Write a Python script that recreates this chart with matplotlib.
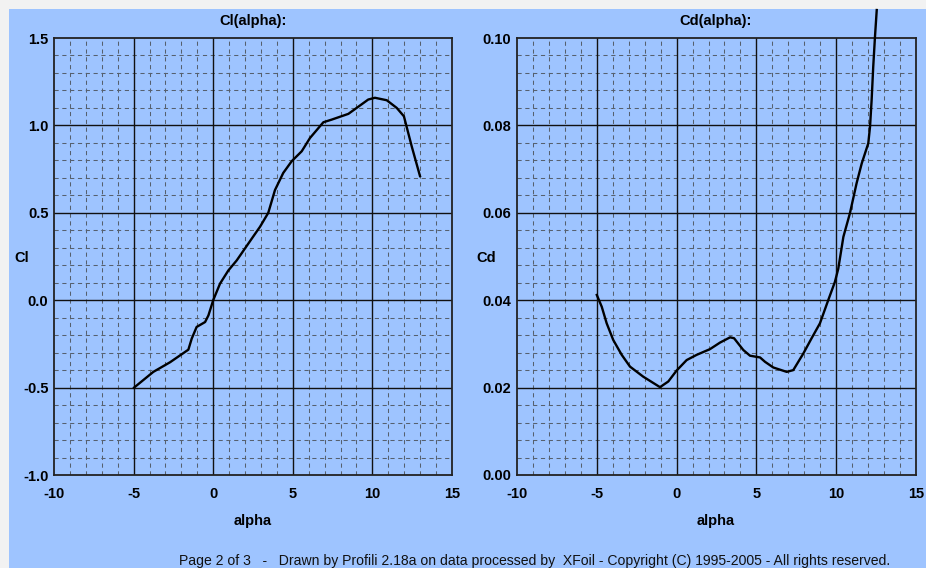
import matplotlib
matplotlib.use("Agg")
import matplotlib.pyplot as plt
from matplotlib.patches import Rectangle
import numpy as np

# ---- data ----
cl_alpha = [-4.97, -3.76, -2.71, -1.56, -1.35, -1.04, -0.51, -0.30, 0.00, 0.43, 0.95, 1.48,
            2.42, 2.94, 3.46, 3.88, 4.40, 4.93, 5.56, 6.08, 6.92, 7.44, 8.49, 9.01,
            9.74, 10.16, 10.90, 11.53, 11.98, 12.47, 12.99]
cl_values = [-0.500, -0.410, -0.355, -0.283, -0.220, -0.153, -0.125, -0.087, 0.000, 0.095, 0.170, 0.228,
             0.352, 0.420, 0.500, 0.630, 0.728, 0.795, 0.852, 0.928, 1.018, 1.033, 1.066, 1.100,
             1.148, 1.158, 1.144, 1.100, 1.052, 0.880, 0.710]

cd_alpha = [-5.00, -4.69, -4.38, -3.97, -3.44, -2.92, -2.09, -1.04, -0.52, 0.00, 0.63, 1.26,
            2.09, 2.72, 3.35, 3.60, 4.18, 4.60, 5.23, 5.54, 6.06, 6.90, 7.31, 7.94, 8.46,
            8.98, 9.50, 9.92, 10.13, 10.45, 10.86, 11.28, 11.60, 12.01, 12.12, 12.22,
            12.32, 12.43, 12.54]
cd_values = [0.0412, 0.0385, 0.0347, 0.0309, 0.0275, 0.0248, 0.0225, 0.0201, 0.0214, 0.0239, 0.0263, 0.0275,
             0.0288, 0.0303, 0.0315, 0.0313, 0.0286, 0.0273, 0.0269, 0.0259, 0.0246, 0.0236, 0.0240, 0.0278, 0.0313,
             0.0347, 0.0400, 0.0442, 0.0472, 0.0545, 0.0599, 0.0668, 0.0713, 0.0759, 0.0797, 0.0858,
             0.0934, 0.1003, 0.1064]

x_ticks = [-10, -5, 0, 5, 10, 15]
cl_ticks = [-1.0, -0.5, 0.0, 0.5, 1.0, 1.5]
cd_ticks = [0.00, 0.02, 0.04, 0.06, 0.08, 0.10]

titles = ["Cl(alpha):", "Cd(alpha):"]
ylabels = ["Cl", "Cd"]
xlabel = "alpha"
footer = "Page 2 of 3   -   Drawn by Profili 2.18a on data processed by  XFoil - Copyright (C) 1995-2005 - All rights reserved."

# ---- style ----
W, H = 926, 568
BG = "#9ec4ff"
plt.rcParams['font.family'] = ['Liberation Sans', 'DejaVu Sans']
fig = plt.figure(figsize=(W / 100, H / 100), dpi=100, facecolor="#f2f2f2")
panel = Rectangle((9 / W, 0), 1 - 9 / W, 1 - 9 / H, transform=fig.transFigure,
                  facecolor=BG, edgecolor="none", zorder=-10)
fig.patches.append(panel)

FS = 10.5


def px_axes(x0, x1, ytop, ybot):
    return fig.add_axes([x0 / W, 1 - ybot / H, (x1 - x0) / W, (ybot - ytop) / H])


def style(ax, yt, fmt, ystep):
    ax.set_facecolor(BG)
    ax.set_xlim(-10, 15)
    ax.set_ylim(yt[0], yt[-1])
    ax.set_xticks(x_ticks)
    ax.set_yticks(yt)
    ax.set_xticklabels([str(t) for t in x_ticks], fontsize=FS, fontweight='bold')
    ax.set_yticklabels([fmt.format(t) for t in yt], fontsize=FS, fontweight='bold')
    ax.tick_params(length=0, axis='y', pad=4)
    ax.tick_params(length=0, axis='x', pad=9)
    # minor dashed grid
    for xv in np.arange(-10, 15.001, 1.0):
        if abs(xv % 5) > 1e-6:
            ax.axvline(xv, color="#56606e", lw=0.75, ls=(0, (4, 3.5)), zorder=1)
    n = int(round((yt[-1] - yt[0]) / ystep))
    for i in range(n + 1):
        yv = yt[0] + i * ystep
        if i % 5 != 0:
            ax.axhline(yv, color="#56606e", lw=0.75, ls=(0, (4, 3.5)), zorder=1)
    for xv in x_ticks[1:-1]:
        ax.axvline(xv, color="#111111", lw=1.0, zorder=2)
    for yv in yt[1:-1]:
        ax.axhline(yv, color="#111111", lw=1.0, zorder=2)
    for s in ax.spines.values():
        s.set_color("#222222")
        s.set_linewidth(1.3)


ax1 = px_axes(54, 452, 38, 475)
style(ax1, cl_ticks, "{:.1f}", 0.1)
ax1.plot(cl_alpha, cl_values, color="black", lw=1.7, zorder=5, solid_joinstyle='round')

ax2 = px_axes(517, 916, 38, 475)
style(ax2, cd_ticks, "{:.2f}", 0.004)
ax2.plot(cd_alpha, cd_values, color="black", lw=1.7, zorder=5, clip_on=False, solid_joinstyle='round')

for cx, t in [(253, titles[0]), (716, titles[1])]:
    fig.text(cx / W, 1 - 21 / H, t, ha='center', va='center', fontsize=FS, fontweight='bold')
for cx, t in [(22, ylabels[0]), (486, ylabels[1])]:
    fig.text(cx / W, 1 - 258 / H, t, ha='center', va='center', fontsize=FS, fontweight='bold')
for cx in [253, 716]:
    fig.text(cx / W, 1 - 521 / H, xlabel, ha='center', va='center', fontsize=FS, fontweight='bold')
fig.text(535 / W, 1 - 561 / H, footer, ha='center', va='center', fontsize=10.1, color="#111111")

fig.savefig("out.png", dpi=100, facecolor=fig.get_facecolor())
